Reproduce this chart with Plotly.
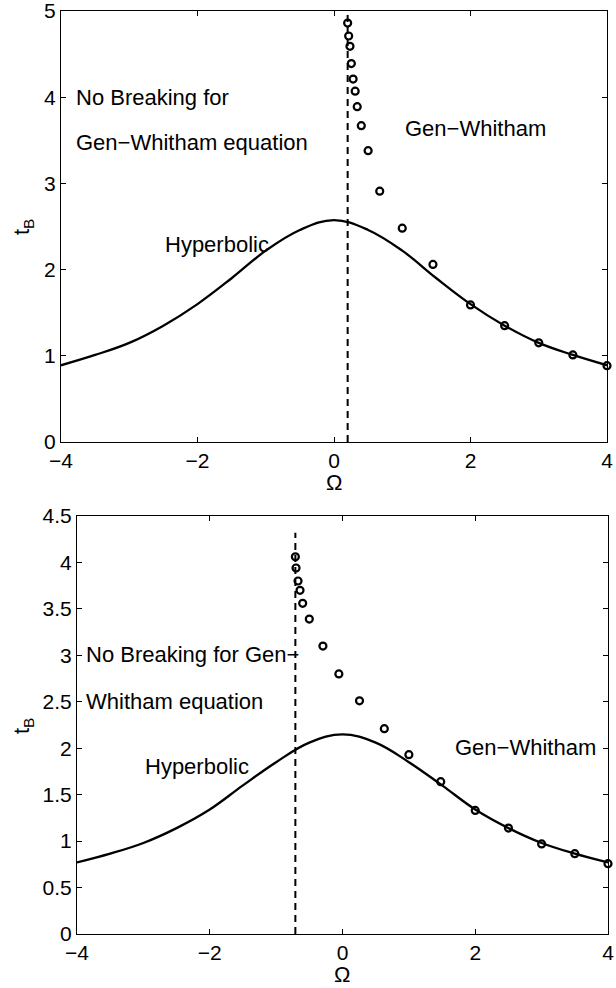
import plotly.graph_objects as go

# ---------------- data ----------------
# Top panel: hyperbolic breaking-time curve
omega_curve_top = [-4, -3.5, -3, -2.5, -2, -1.5, -1, -0.5, 0, 0.5, 1, 1.5, 2, 2.5, 3, 3.5, 4]
tb_curve_top = [0.89, 1.01, 1.15, 1.35, 1.60, 1.90, 2.22, 2.46, 2.575, 2.46, 2.22, 1.90, 1.60, 1.35, 1.15, 1.01, 0.89]
# Top panel: Gen-Whitham breaking times (circles)
omega_gw_top = [0.20, 0.215, 0.234, 0.254, 0.28, 0.31, 0.34, 0.40, 0.50, 0.67, 1.0, 1.45, 2.0, 2.5, 3.0, 3.5, 4.0]
tb_gw_top = [4.86, 4.71, 4.59, 4.39, 4.21, 4.07, 3.89, 3.67, 3.38, 2.91, 2.48, 2.06, 1.59, 1.35, 1.15, 1.01, 0.885]
# Top panel: no-breaking threshold (dashed)
omega_thr_top = [0.2, 0.2]
tb_thr_top = [0, 5]

# Bottom panel: hyperbolic breaking-time curve
omega_curve_bot = [-4, -3.5, -3, -2.5, -2, -1.5, -1, -0.5, 0, 0.5, 1, 1.5, 2, 2.5, 3, 3.5, 4]
tb_curve_bot = [0.77, 0.865, 0.98, 1.14, 1.34, 1.60, 1.85, 2.06, 2.15, 2.06, 1.85, 1.60, 1.34, 1.14, 0.98, 0.865, 0.77]
# Bottom panel: Gen-Whitham breaking times (circles)
omega_gw_bot = [-0.71, -0.70, -0.67, -0.64, -0.60, -0.50, -0.295, -0.055, 0.256, 0.63, 1.0, 1.48, 2.0, 2.5, 3.0, 3.5, 4.0]
tb_gw_bot = [4.06, 3.94, 3.80, 3.70, 3.56, 3.39, 3.10, 2.80, 2.51, 2.21, 1.93, 1.64, 1.33, 1.14, 0.97, 0.865, 0.757]
# Bottom panel: no-breaking threshold (dashed)
omega_thr_bot = [-0.71, -0.71]
tb_thr_bot = [0, 4.32]

x_ticks = [-4, -2, 0, 2, 4]
y_ticks_top = [0, 1, 2, 3, 4, 5]
y_ticks_bot = [0, 0.5, 1, 1.5, 2, 2.5, 3, 3.5, 4, 4.5]

# ---------------- figure ----------------
W, H = 616, 988
FONT = "Liberation Sans, Arial, Helvetica, sans-serif"


def px_x(p):
    return p / W


def px_y(p):
    return 1 - p / H


fig = go.Figure()

line_style = dict(color="black", width=2.3, shape="spline", smoothing=1.1)
marker_style = dict(symbol="circle-open", size=7, color="black", line=dict(width=2.2, color="black"))
dash_style = dict(color="black", width=2, dash="7px,5px")

# top
fig.add_trace(go.Scatter(x=omega_curve_top, y=tb_curve_top, mode="lines", line=line_style,
                         xaxis="x", yaxis="y", showlegend=False))
fig.add_trace(go.Scatter(x=omega_thr_top, y=tb_thr_top, mode="lines", line=dash_style,
                         xaxis="x", yaxis="y", showlegend=False))
fig.add_trace(go.Scatter(x=omega_gw_top, y=tb_gw_top, mode="markers", marker=marker_style,
                         xaxis="x", yaxis="y", showlegend=False, cliponaxis=False))
# bottom
fig.add_trace(go.Scatter(x=omega_curve_bot, y=tb_curve_bot, mode="lines", line=line_style,
                         xaxis="x2", yaxis="y2", showlegend=False))
fig.add_trace(go.Scatter(x=omega_thr_bot, y=tb_thr_bot, mode="lines", line=dash_style,
                         xaxis="x2", yaxis="y2", showlegend=False))
fig.add_trace(go.Scatter(x=omega_gw_bot, y=tb_gw_bot, mode="markers", marker=marker_style,
                         xaxis="x2", yaxis="y2", showlegend=False, cliponaxis=False))

axis_common = dict(
    showline=True, linecolor="black", linewidth=1, mirror="ticks",
    ticks="inside", ticklen=5, tickwidth=1, tickcolor="black",
    showgrid=False, zeroline=False, automargin=False, ticklabeloverflow="allow",
    tickfont=dict(family=FONT, size=21, color="black"),
)

fig.update_layout(
    width=W, height=H,
    margin=dict(l=0, r=0, t=0, b=0),
    paper_bgcolor="white", plot_bgcolor="white",
    xaxis=dict(domain=[px_x(61), px_x(607)], range=[-4, 4], tickvals=x_ticks,
               anchor="y", **axis_common),
    yaxis=dict(domain=[px_y(442), px_y(11)], range=[0, 5], tickvals=y_ticks_top,
               anchor="x", **axis_common),
    xaxis2=dict(domain=[px_x(77), px_x(608)], range=[-4, 4], tickvals=x_ticks,
                anchor="y2", **axis_common),
    yaxis2=dict(domain=[px_y(934), px_y(516)], range=[0, 4.5], tickvals=y_ticks_bot,
                anchor="x2", **axis_common),
)

txt = dict(family=FONT, size=22, color="black")
ann = [
    # top panel texts
    dict(x=-3.81, y=4.0, xref="x", yref="y", text="No Breaking for"),
    dict(x=-3.81, y=3.48, xref="x", yref="y", text="Gen\u2212Whitham equation"),
    dict(x=-2.5, y=2.29, xref="x", yref="y", text="Hyperbolic"),
    dict(x=1.01, y=3.64, xref="x", yref="y", text="Gen\u2212Whitham"),
    # bottom panel texts
    dict(x=-3.90, y=3.01, xref="x2", yref="y2", text="No Breaking for Gen\u2212"),
    dict(x=-3.90, y=2.50, xref="x2", yref="y2", text="Whitham equation"),
    dict(x=-3.0, y=1.80, xref="x2", yref="y2", text="Hyperbolic"),
    dict(x=1.67, y=2.01, xref="x2", yref="y2", text="Gen\u2212Whitham"),
]
for a in ann:
    fig.add_annotation(**a, xanchor="left", yanchor="middle", showarrow=False, font=txt)

# axis titles as annotations
for (xp, yp) in [(334, 482), (342, 974)]:
    fig.add_annotation(x=px_x(xp), y=px_y(yp), xref="paper", yref="paper", text="\u03a9",
                       showarrow=False, xanchor="center", yanchor="middle", font=txt)
for (xp, yp) in [(23, 227), (23, 726)]:
    fig.add_annotation(x=px_x(xp), y=px_y(yp), xref="paper", yref="paper", text="t<sub>B</sub>",
                       showarrow=False, xanchor="center", yanchor="middle", textangle=-90, font=txt)

fig.write_html(
    "out.html",
    config={"displayModeBar": False},
    post_script="document.body.style.margin='0';document.body.style.overflow='hidden';",
)
